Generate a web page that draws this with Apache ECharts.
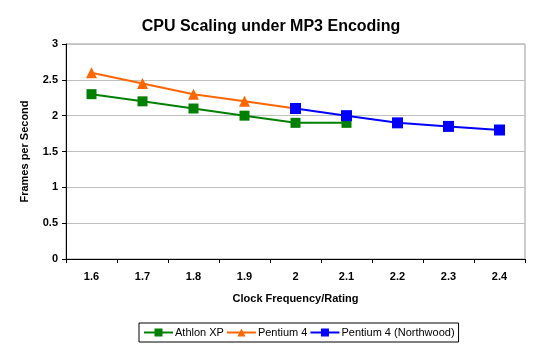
<!DOCTYPE html>
<html>
<head>
<meta charset="utf-8">
<script src="https://cdn.jsdelivr.net/npm/echarts@6/dist/echarts.min.js"></script>
<style>
html,body{margin:0;padding:0;background:#fff;}
#chart{width:542px;height:352px;}
</style>
</head>
<body>
<div id="chart"></div>
<script>
var clock_labels = ['1.6', '1.7', '1.8', '1.9', '2', '2.1', '2.2', '2.3', '2.4'];
var athlon_xp = [2.3, 2.2, 2.1, 2.0, 1.9, 1.9, null, null, null];
var pentium4 = [2.6, 2.45, 2.3, 2.2, 2.1, null, null, null, null];
var pentium4_nw = [null, null, null, null, 2.1, 2.0, 1.9, 1.85, 1.8];

var font_name = 'Liberation Sans, Arial, sans-serif';

var cpu_chart = echarts.init(document.getElementById('chart'));
cpu_chart.setOption({
	animation: false,
	backgroundColor: '#fff',
	title: {
		text: 'CPU Scaling under MP3 Encoding',
		left: 'center',
		top: 14,
		textStyle: { fontFamily: font_name, fontSize: 16, fontWeight: 'bold', color: '#000' }
	},
	legend: {
		bottom: 10,
		left: 139,
		itemGap: 2,
		itemWidth: 29,
		itemHeight: 10,
		padding: [4, 4],
		borderColor: '#000',
		borderWidth: 1,
		borderRadius: 0,
		textStyle: { fontFamily: font_name, fontSize: 11, color: '#000', padding: [0, 0, 0, -3] },
		data: ['Athlon XP', 'Pentium 4', 'Pentium 4 (Northwood)']
	},
	grid: { left: 66, right: 17, top: 44, bottom: 93, show: true, borderColor: '#999', borderWidth: 1 },
	xAxis: {
		type: 'category',
		data: clock_labels,
		boundaryGap: true,
		name: 'Clock Frequency/Rating',
		nameLocation: 'middle',
		nameGap: 34,
		nameTextStyle: { fontFamily: font_name, fontSize: 11, fontWeight: 'bold', color: '#000' },
		axisLine: { lineStyle: { color: '#000', width: 1 } },
		axisTick: { show: true, length: 4, inside: false, lineStyle: { color: '#000' } },
		axisLabel: { fontFamily: font_name, fontSize: 11, fontWeight: 'bold', color: '#000', margin: 12 },
		splitLine: { show: false }
	},
	yAxis: {
		type: 'value',
		min: 0,
		max: 3,
		interval: 0.5,
		name: 'Frames per Second',
		nameLocation: 'middle',
		nameGap: 36,
		nameTextStyle: { fontFamily: font_name, fontSize: 11, fontWeight: 'bold', color: '#000' },
		axisLine: { show: true, lineStyle: { color: '#000', width: 1 } },
		axisTick: { show: true, length: 4, lineStyle: { color: '#000' } },
		axisLabel: { fontFamily: font_name, fontSize: 11, fontWeight: 'bold', color: '#000', margin: 8 },
		splitLine: { show: true, lineStyle: { color: '#c0c0c0', width: 1 } }
	},
	series: [
		{
			name: 'Athlon XP',
			type: 'line',
			data: athlon_xp,
			symbol: 'rect',
			symbolSize: 10,
			color: '#008000',
			lineStyle: { width: 2, color: '#008000' },
			itemStyle: { color: '#008000' }
		},
		{
			name: 'Pentium 4',
			type: 'line',
			data: pentium4,
			symbol: 'triangle',
			symbolSize: 11,
			color: '#ff6600',
			lineStyle: { width: 2, color: '#ff6600' },
			itemStyle: { color: '#ff6600' }
		},
		{
			name: 'Pentium 4 (Northwood)',
			type: 'line',
			data: pentium4_nw,
			symbol: 'rect',
			symbolSize: 11,
			color: '#0000ff',
			lineStyle: { width: 2, color: '#0000ff' },
			itemStyle: { color: '#0000ff' }
		}
	]
});
</script>
</body>
</html>
